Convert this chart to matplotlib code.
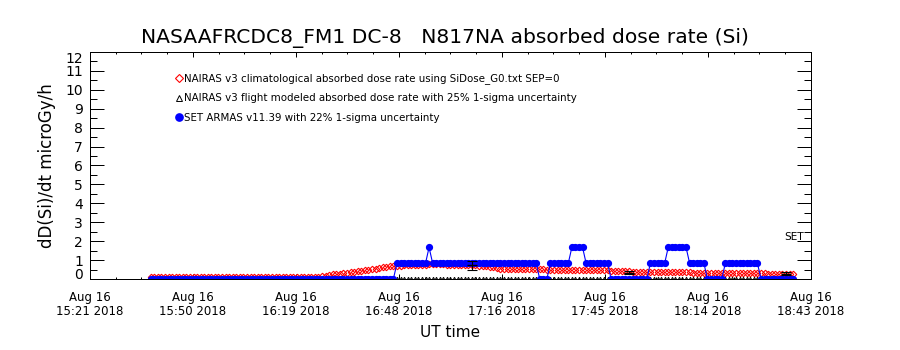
import matplotlib
matplotlib.use("Agg")
import matplotlib.pyplot as plt
import matplotlib.dates as mdates
from matplotlib import font_manager
from matplotlib.ticker import AutoMinorLocator, MultipleLocator, FixedLocator
import numpy as np
import pandas as pd

# ---- data (1 minute cadence, 15:38 .. 18:38 UT) ----
t_start = "2018-08-16 15:38"
n_pts = 181

# NAIRAS v3 climatological (red)
nairas_clim = (
    [0.10] * 47
    + [0.12, 0.15, 0.18, 0.21, 0.24, 0.26, 0.28, 0.30, 0.33, 0.35, 0.38, 0.40,
       0.43, 0.46, 0.49, 0.52, 0.55, 0.58, 0.61, 0.64, 0.66, 0.68, 0.70]
    + [0.71, 0.72, 0.73, 0.74, 0.75, 0.75, 0.76, 0.76, 0.77, 0.77, 0.77, 0.77,
       0.77, 0.76, 0.76, 0.76, 0.75, 0.75, 0.74, 0.74, 0.73, 0.72, 0.71, 0.70,
       0.68, 0.65, 0.61, 0.57]
    + [0.54, 0.53, 0.53, 0.52, 0.52, 0.52, 0.52, 0.51, 0.51, 0.51, 0.51, 0.51,
       0.51, 0.50, 0.50, 0.50, 0.50, 0.50, 0.50, 0.50, 0.49, 0.49, 0.49, 0.49,
       0.49, 0.48, 0.48, 0.48, 0.47]
    + [0.46, 0.45, 0.44, 0.43, 0.42, 0.41, 0.40, 0.40,
       0.39, 0.39, 0.38, 0.38, 0.38, 0.37, 0.37, 0.37, 0.37, 0.36, 0.36, 0.36, 0.36,
       0.35, 0.35, 0.35, 0.35, 0.34, 0.34, 0.34, 0.34, 0.33, 0.33, 0.33, 0.33, 0.33,
       0.32, 0.32,
       0.32, 0.31, 0.31, 0.31, 0.30, 0.30, 0.30, 0.29, 0.29, 0.29, 0.28, 0.28, 0.28,
       0.27, 0.27, 0.27, 0.26, 0.26]
)

# NAIRAS v3 flight modeled (black triangles, sits on zero)
nairas_flight = [0.0] * n_pts

# SET ARMAS (blue) - quantized levels, as (level, minutes)
armas_runs = [(0.0, 69), (0.83, 9), (1.67, 1), (0.83, 30), (0.0, 3), (0.83, 6),
              (1.67, 4), (0.83, 7), (0.0, 11), (0.83, 5), (1.67, 6), (0.83, 5),
              (0.0, 5), (0.83, 10), (0.0, 10)]

# flight model 1-sigma error bars
err_times = ["2018-08-16 17:08", "2018-08-16 17:52", "2018-08-16 18:36"]
err_vals = [0.72, 0.33, 0.28]
err_sig = [0.23, 0.08, 0.08]

x_ticklabels = ["Aug 16\n15:21 2018", "Aug 16\n15:50 2018", "Aug 16\n16:19 2018",
                "Aug 16\n16:48 2018", "Aug 16\n17:16 2018", "Aug 16\n17:45 2018",
                "Aug 16\n18:14 2018", "Aug 16\n18:43 2018"]
x_range = ["2018-08-16 15:21", "2018-08-16 18:43"]

labels = ["NAIRAS v3 climatological absorbed dose rate using SiDose_G0.txt SEP=0",
          "NAIRAS v3 flight modeled absorbed dose rate with 25% 1-sigma uncertainty",
          "SET ARMAS v11.39 with 22% 1-sigma uncertainty"]

# ---- fonts: IDL style tick text is narrow ----
names = {f.name for f in font_manager.fontManager.ttflist}
if "Liberation Sans Narrow" in names:
    nfont, k = "Liberation Sans Narrow", 1.3
else:
    nfont, k = "DejaVu Sans", 1.0

times = pd.date_range(t_start, periods=n_pts, freq="1min")
armas = []
for lev, cnt in armas_runs:
    armas += [lev] * cnt

fig = plt.figure(figsize=(9, 3.5), dpi=100)
ax = fig.add_axes([0.1, 0.2029, 0.8011, 0.6486])

ax.plot(times, nairas_clim, ls="none", marker="D", ms=3.3, mfc="none",
        mec="red", mew=0.8, label=labels[0])
ax.plot(times, nairas_flight, ls="-", lw=0.7, color="k", marker="^", ms=3.2,
        mfc="none", mec="k", mew=0.7, label=labels[1])
ax.plot(times, armas, ls="-", lw=0.8, color="blue", marker="o", ms=4.2,
        mfc="blue", mec="blue", label=labels[2])
ax.errorbar(pd.to_datetime(err_times), err_vals, yerr=err_sig, fmt="_", color="k",
            ms=7, elinewidth=0.8, capsize=3.6, capthick=0.8)

ax.text(0.9626, 2.22, "SET", transform=ax.get_yaxis_transform(), va="center",
        ha="left", family=nfont, fontsize=7.6 * k)

# axes
x0, x1 = mdates.date2num(pd.to_datetime(x_range))
ax.set_xlim(x0, x1)
ax.xaxis.set_major_locator(FixedLocator(np.linspace(x0, x1, len(x_ticklabels))))
ax.set_xticklabels(x_ticklabels, family=nfont, fontsize=8.5 * k, linespacing=1.15)
ax.xaxis.set_minor_locator(AutoMinorLocator(4))

ax.set_ylim(0, 12)
ax.set_yticks(range(13))
ax.set_yticklabels([str(i) for i in range(13)], family=nfont, fontsize=10 * k)
ax.yaxis.set_minor_locator(MultipleLocator(0.5))
ylabs = ax.get_yticklabels()
ylabs[0].set_va("baseline")
ylabs[-1].set_va("top")

ax.tick_params(axis="x", which="major", direction="in", length=3.3, width=0.72,
               top=True, pad=8.5)
ax.tick_params(axis="x", which="minor", direction="in", length=1.7, width=0.72, top=True)
ax.tick_params(axis="y", which="major", direction="in", length=10.4, width=0.72,
               right=True, pad=5)
ax.tick_params(axis="y", which="minor", direction="in", length=5.2, width=0.72, right=True)
for s in ax.spines.values():
    s.set_linewidth(0.72)

ax.set_ylabel("dD(Si)/dt microGy/h", fontsize=12)
ax.yaxis.set_label_coords(-0.047, 0.5)
ax.set_xlabel("UT time", fontsize=11)
ax.xaxis.set_label_coords(0.5, -0.236)
ax.xaxis.label.set_va("center")

fig.text(0.4945, 0.891, "NASAAFRCDC8_FM1 DC-8   N817NA absorbed dose rate (Si)",
         ha="center", va="center", fontsize=14.6)

leg = ax.legend(loc="upper left", bbox_to_anchor=(0.119, 0.907), frameon=False,
                borderpad=0, borderaxespad=0, handlelength=0.6, handletextpad=0.2,
                labelspacing=0.93, numpoints=1, markerscale=1.25,
                prop={"family": nfont, "size": 7.35 * k})
for h in leg.legend_handles:
    h.set_linestyle("none")

fig.savefig("out.png", dpi=100)
